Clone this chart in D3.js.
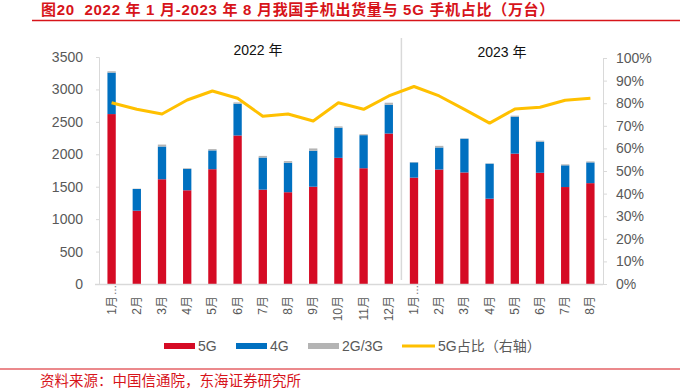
<!DOCTYPE html>
<html>
<head>
<meta charset="utf-8">
<script src="https://cdn.jsdelivr.net/npm/d3@7"></script>
<style>
  body { margin: 0; background: #fff; }
  text { font-family: "Liberation Sans", "Noto Sans CJK SC", sans-serif; }
</style>
</head>
<body>
<div id="chart"></div>
<script>
// months, 2022-01 .. 2023-08
const months = ['1月','2月','3月','4月','5月','6月','7月','8月','9月','10月','11月','12月',
                '1月','2月','3月','4月','5月','6月','7月','8月'];
const g5  = [2620,1130,1615,1445,1770,2290,1455,1415,1500,1945,1785,2320, 1640,1765,1720,1315,2010,1715,1495,1555];
const g4  = [ 640, 335, 505, 330, 290, 490, 495, 455, 555, 465, 510, 445,  235, 340, 520, 540, 570, 480, 335, 320];
const g23 = [  20,   5,  30,  10,  20,  20,  25,  25,  35,  20,  15,  30,    5,  25,   5,   5,  15,  15,  15,  15];
const share = [80.2,77.3,75.2,81.4,85.4,82.2,74.2,75.2,72.1,80.2,77.3,83.2, 87.4,83.2,77.3,71.2,77.4,78.2,81.3,82.2];
const leftTicks = [0,500,1000,1500,2000,2500,3000,3500];
const rightTicks = [0,10,20,30,40,50,60,70,80,90,100];

const W = 680, H = 390;
const m = {left: 99, right: 77, top: 57, bottom: 106};
const red = '#d50b24', blue = '#0070c0', gray = '#b4b4b4', yellow = '#ffc000', axisCol = '#d9d9d9', tickCol = '#595959';

const svg = d3.select('#chart').append('svg').attr('width', W).attr('height', H);

const x = d3.scaleBand().domain(d3.range(months.length)).range([m.left, W - m.right]).paddingInner(0.67).paddingOuter(0.335);
const y = d3.scaleLinear().domain([0, 3500]).range([H - m.bottom, m.top]);
const y2 = d3.scaleLinear().domain([0, 100]).range([H - m.bottom, m.top + 1]);

// title
svg.append('text').attr('x', 41).attr('y', 15).attr('fill', '#d7141a')
  .attr('font-size', 15).attr('font-weight', 'bold').attr('letter-spacing', 0.7).style('white-space', 'pre')
  .text('图20  2022 年 1 月-2023 年 8 月我国手机出货量与 5G 手机占比（万台）');
svg.append('line').attr('x1', 32).attr('x2', 680).attr('y1', 20.5).attr('y2', 20.5)
  .attr('stroke', '#d7141a').attr('stroke-width', 1.5);

// stacked bars
const rows = months.map((mo, i) => ({i, g5: g5[i], g4: g4[i], g23: g23[i]}));
const stack = d3.stack().keys(['g5','g4','g23'])(rows);
const colors = {g5: red, g4: blue, g23: gray};
stack.forEach(s => {
  svg.append('g').selectAll('rect').data(s).join('rect')
    .attr('x', d => x(d.data.i))
    .attr('width', x.bandwidth())
    .attr('y', d => y(d[1]))
    .attr('height', d => y(d[0]) - y(d[1]))
    .attr('fill', colors[s.key]);
});

// year divider
const divX = (x(11) + x.bandwidth() + x(12)) / 2;
svg.append('line').attr('x1', divX).attr('x2', divX).attr('y1', 38).attr('y2', 280)
  .attr('stroke', axisCol).attr('stroke-width', 1.5);
svg.append('text').attr('x', 258).attr('y', 55).attr('text-anchor', 'middle').attr('font-size', 14).attr('fill', '#111').text('2022 年');
svg.append('text').attr('x', 502).attr('y', 57).attr('text-anchor', 'middle').attr('font-size', 14).attr('fill', '#111').text('2023 年');

// share line
svg.append('path').datum(share)
  .attr('fill', 'none').attr('stroke', yellow).attr('stroke-width', 3).attr('stroke-linejoin', 'round')
  .attr('d', d3.line().x((d, i) => x(i) + x.bandwidth() / 2).y(d => y2(d)));

// left axis
const la = svg.append('g').attr('transform', `translate(${m.left},0)`)
  .call(d3.axisLeft(y).tickValues(leftTicks).tickSize(3).tickPadding(13).tickFormat(d3.format('d')));
la.select('.domain').attr('stroke', axisCol);
la.selectAll('.tick line').attr('stroke', axisCol);
la.selectAll('.tick text').attr('fill', tickCol).attr('font-size', 14).attr('font-family', 'Liberation Sans, sans-serif');

// right axis
const ra = svg.append('g').attr('transform', `translate(${W - m.right},0)`)
  .call(d3.axisRight(y2).tickValues(rightTicks).tickSize(4).tickPadding(9).tickFormat(d => d + '%'));
ra.select('.domain').attr('stroke', axisCol);
ra.selectAll('.tick line').attr('stroke', axisCol);
ra.selectAll('.tick text').attr('fill', tickCol).attr('font-size', 14).attr('font-family', 'Liberation Sans, sans-serif');

// bottom axis
svg.append('line').attr('x1', 95).attr('x2', W - m.right).attr('y1', H - m.bottom + 0.5).attr('y2', H - m.bottom + 0.5)
  .attr('stroke', axisCol).attr('stroke-width', 1.5);
const xl = svg.append('g');
months.forEach((mo, i) => {
  const cx = x(i) + x.bandwidth() / 2 + 4;
  xl.append('text').attr('transform', `translate(${cx},296) rotate(-90)`)
    .attr('text-anchor', 'end').attr('font-size', 12).attr('fill', tickCol).text(mo);
  if (i === 0 || i === 12) {
    xl.append('text').attr('transform', `translate(${cx},295) rotate(-90)`)
      .attr('text-anchor', 'start').attr('font-size', 10).attr('fill', tickCol).text('…');
  }
});

// legend
const legend = [
  {label: '5G', color: red, type: 'rect', x: 164},
  {label: '4G', color: blue, type: 'rect', x: 236},
  {label: '2G/3G', color: gray, type: 'rect', x: 308},
  {label: '5G占比（右轴）', color: yellow, type: 'line', x: 402}
];
legend.forEach(l => {
  if (l.type === 'rect') {
    svg.append('rect').attr('x', l.x).attr('y', 343).attr('width', 31).attr('height', 6).attr('fill', l.color);
  } else {
    svg.append('line').attr('x1', l.x).attr('x2', l.x + 33).attr('y1', 346).attr('y2', 346)
      .attr('stroke', l.color).attr('stroke-width', 3);
  }
  svg.append('text').attr('x', l.x + (l.type === 'rect' ? 34 : 36)).attr('y', 351)
    .attr('font-size', 14).attr('fill', tickCol).text(l.label);
});

// source
svg.append('line').attr('x1', 0).attr('x2', 680).attr('y1', 369).attr('y2', 369)
  .attr('stroke', '#d7141a').attr('stroke-width', 1.2);
svg.append('text').attr('x', 40).attr('y', 386).attr('fill', '#d7141a').attr('font-size', 14.5)
  .text('资料来源：中国信通院，东海证券研究所');
</script>
</body>
</html>
